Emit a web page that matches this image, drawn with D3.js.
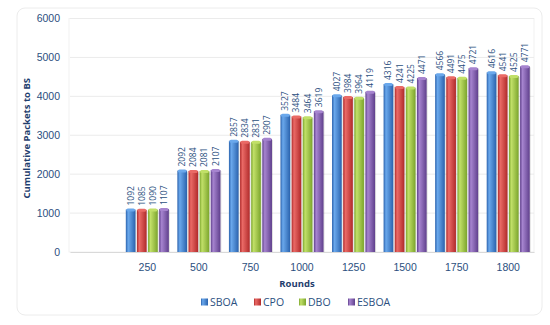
<!DOCTYPE html>
<html>
<head>
<meta charset="utf-8">
<script src="https://cdn.jsdelivr.net/npm/d3@7"></script>
<style>
  body { margin: 0; background: #fff; }
  svg { font-family: "Open Sans", "DejaVu Sans", sans-serif; }
</style>
</head>
<body>
<svg id="chart"></svg>
<script>
// data
const rounds = ["", "250", "500", "750", "1000", "1250", "1500", "1750", "1800"];
const seriesNames = ["SBOA", "CPO", "DBO", "ESBOA"];
const sboa  = [null, 1092, 2092, 2857, 3527, 4027, 4316, 4566, 4616];
const cpo   = [null, 1085, 2084, 2834, 3484, 3984, 4241, 4491, 4541];
const dbo   = [null, 1090, 2081, 2831, 3464, 3964, 4225, 4475, 4525];
const esboa = [null, 1107, 2107, 2907, 3619, 4119, 4471, 4721, 4771];
const yTicks = [0, 1000, 2000, 3000, 4000, 5000, 6000];

const WIDTH = 550, HEIGHT = 325;
const PLOT = { LEFT: 70, RIGHT: 534, TOP: 18.5, BOTTOM: 252 };
const TEXT_COLOR = "#2b4f80";

// light, dark shade for each series
const COLORS = [
  ["#6aa8ec", "#2a62ad"],
  ["#ea6a66", "#b02a2a"],
  ["#c1e068", "#7ba52c"],
  ["#a684cf", "#5f3f8c"]
];

const values = [sboa, cpo, dbo, esboa];

let svg = d3.select("#chart")
  .attr("width", WIDTH)
  .attr("height", HEIGHT);

// gradients for the bevelled bars
let defs = svg.append("defs");
COLORS.forEach((c, i) => {
  let g = defs.append("linearGradient")
    .attr("id", `grad${i}`)
    .attr("x1", "0%").attr("x2", "100%")
    .attr("y1", "0%").attr("y2", "0%");
  g.append("stop").attr("offset", "0%").attr("stop-color", c[1]);
  g.append("stop").attr("offset", "25%").attr("stop-color", c[0]);
  g.append("stop").attr("offset", "60%").attr("stop-color", d3.interpolateRgb(c[0], c[1])(0.45));
  g.append("stop").attr("offset", "100%").attr("stop-color", c[1]);
});

// outer frame
svg.append("rect")
  .attr("x", 17).attr("y", 8)
  .attr("width", 525).attr("height", 307)
  .attr("rx", 8)
  .attr("fill", "none")
  .attr("stroke", "#ececec");

// plot area frame
svg.append("rect")
  .attr("x", PLOT.LEFT - 1).attr("y", PLOT.TOP)
  .attr("width", PLOT.RIGHT - PLOT.LEFT + 1).attr("height", PLOT.BOTTOM - PLOT.TOP)
  .attr("fill", "none")
  .attr("stroke", "#f1f1f1");

let x0 = d3.scaleBand()
  .domain(rounds.map((d, i) => i))
  .range([PLOT.LEFT, PLOT.RIGHT])
  .paddingInner(0.165)
  .paddingOuter(0.0825);

let x1 = d3.scaleBand()
  .domain(seriesNames)
  .range([0, x0.bandwidth()])
  .paddingInner(0.13);

let y = d3.scaleLinear()
  .domain([0, 6000])
  .range([PLOT.BOTTOM, PLOT.TOP]);

// gridlines
svg.append("g")
  .selectAll("line")
  .data(yTicks.slice(1))
  .enter()
  .append("line")
    .attr("x1", PLOT.LEFT).attr("x2", PLOT.RIGHT)
    .attr("y1", d => y(d)).attr("y2", d => y(d))
    .attr("stroke", "#ebebeb");

// y axis
let yAxis = svg.append("g")
  .attr("transform", `translate(${PLOT.LEFT},0)`)
  .call(d3.axisLeft(y).tickValues(yTicks).tickFormat(d3.format("d")).tickSize(0).tickPadding(10));
yAxis.select(".domain").remove();
yAxis.selectAll("text")
  .attr("fill", TEXT_COLOR)
  .style("font-size", "10.5px");

// x axis
let xAxis = svg.append("g")
  .attr("transform", `translate(0,${PLOT.BOTTOM})`)
  .call(d3.axisBottom(x0).tickFormat(i => rounds[i]).tickSize(0).tickPadding(12));
xAxis.select(".domain").attr("stroke", "#d9d9d9");
xAxis.selectAll("text")
  .attr("fill", TEXT_COLOR)
  .style("font-size", "10.5px");

// bars
let groups = svg.append("g")
  .selectAll("g")
  .data(rounds.map((r, i) => i).filter(i => rounds[i] !== ""))
  .enter()
  .append("g")
    .attr("transform", i => `translate(${x0(i)},0)`);

seriesNames.forEach((name, s) => {
  let bw = x1.bandwidth();
  // shadow
  groups.append("rect")
    .attr("x", x1(name) + 1)
    .attr("y", i => y(values[s][i]) + 1)
    .attr("width", bw)
    .attr("height", i => PLOT.BOTTOM - y(values[s][i]) - 1)
    .attr("fill", "#000")
    .attr("opacity", 0.12);
  groups.append("rect")
    .attr("x", x1(name))
    .attr("y", i => y(values[s][i]))
    .attr("width", bw)
    .attr("height", i => PLOT.BOTTOM - y(values[s][i]))
    .attr("fill", `url(#grad${s})`);
  // top cap
  groups.append("rect")
    .attr("x", x1(name) + 0.5)
    .attr("y", i => y(values[s][i]) - 1)
    .attr("width", bw - 1)
    .attr("height", 3)
    .attr("rx", 1.5)
    .attr("fill", COLORS[s][0]);
  // value labels
  groups.append("text")
    .attr("transform", i => `translate(${x1(name) + bw / 2 + 3},${y(values[s][i]) - 4}) rotate(-90)`)
    .attr("fill", TEXT_COLOR)
    .style("font-size", "8.5px")
    .text(i => values[s][i]);
});

// axis titles
svg.append("text")
  .attr("transform", `translate(30,${(PLOT.TOP + PLOT.BOTTOM) / 2 + 3}) rotate(-90)`)
  .attr("text-anchor", "middle")
  .attr("fill", "#1f3e6e")
  .style("font-size", "9.5px")
  .style("font-weight", "bold")
  .text("Cumulative Packets to BS");

svg.append("text")
  .attr("x", 297)
  .attr("y", 287)
  .attr("text-anchor", "middle")
  .attr("fill", "#1f3e6e")
  .style("font-size", "9.5px")
  .style("font-weight", "bold")
  .text("Rounds");

// legend
const legendX = [201, 254, 299, 348];
let legend = svg.append("g")
  .selectAll("g")
  .data(seriesNames)
  .enter()
  .append("g")
    .attr("transform", (d, i) => `translate(${legendX[i]},302)`);
legend.append("rect")
  .attr("x", 0).attr("y", -3.5)
  .attr("width", 7).attr("height", 7)
  .attr("fill", (d, i) => `url(#grad${i})`);
legend.append("text")
  .attr("x", 9)
  .attr("y", 4)
  .attr("fill", TEXT_COLOR)
  .style("font-size", "10.5px")
  .text(d => d);
</script>
</body>
</html>
